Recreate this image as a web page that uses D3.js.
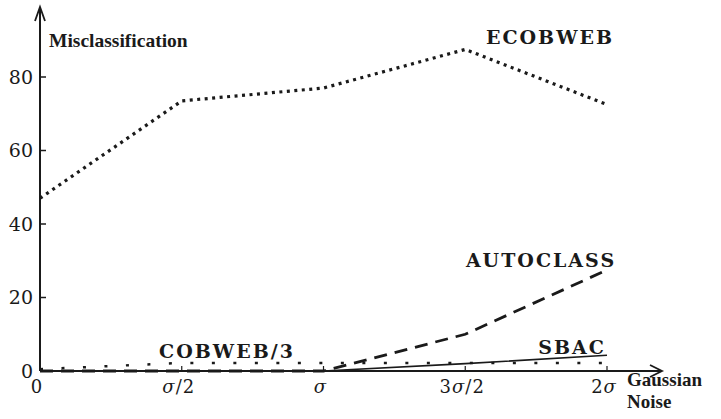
<!DOCTYPE html>
<html>
<head>
<meta charset="utf-8">
<script src="https://cdn.jsdelivr.net/npm/d3@7"></script>
<style>
  body { margin: 0; background: #fff; }
  svg { display: block; }
</style>
</head>
<body>
<script>
var noiseLevels = [0, 0.5, 1, 1.5, 2];
var noiseLabels = ["0", "σ/2", "σ", "3σ/2", "2σ"];
var yTicks = [0, 20, 40, 60, 80];

var ecobweb = [47, 73.5, 77, 87.5, 72.5];
var autoclass = [0, 0, 0, 10, 27.5];
var sbac = [0, 0, 0, 2, 4.3];
var cobweb3 = [0.5, 2.2, 2.2, 2.2, 2.2];

var width = 721, height = 419;
var serif = "'DejaVu Serif', serif";
var ink = "#1a1a1a";

var svg = d3.select("body")
  .append("svg")
  .attr("width", width)
  .attr("height", height);

var x = d3.scaleLinear().domain([0, 2]).range([40, 607]);
var y = d3.scaleLinear().domain([0, 80]).range([371, 77]);

// axes lines with open arrow heads
svg.append("line")
  .attr("x1", x(0)).attr("y1", y(0))
  .attr("x2", 662).attr("y2", y(0))
  .attr("stroke", ink).attr("stroke-width", 2);
svg.append("path")
  .attr("d", "M650," + (y(0) - 6) + " L662," + y(0) + " L650," + (y(0) + 6))
  .attr("fill", "none").attr("stroke", ink).attr("stroke-width", 1.8);

svg.append("line")
  .attr("x1", x(0)).attr("y1", y(0))
  .attr("x2", x(0)).attr("y2", 7)
  .attr("stroke", ink).attr("stroke-width", 2);
svg.append("path")
  .attr("d", "M" + (x(0) - 5) + ",21 L" + x(0) + ",7 L" + (x(0) + 5) + ",21")
  .attr("fill", "none").attr("stroke", ink).attr("stroke-width", 1.8);

// y ticks
var yt = svg.append("g");
yt.selectAll("line")
  .data(yTicks.filter(function (d) { return d > 0; }))
  .enter()
  .append("line")
  .attr("x1", x(0)).attr("x2", x(0) + 6)
  .attr("y1", function (d) { return y(d); })
  .attr("y2", function (d) { return y(d); })
  .attr("stroke", ink).attr("stroke-width", 1.5);
yt.selectAll("text")
  .data(yTicks)
  .enter()
  .append("text")
  .attr("x", 33)
  .attr("y", function (d) { return y(d); })
  .attr("dy", "0.36em")
  .attr("text-anchor", "end")
  .attr("font-family", serif)
  .attr("font-size", 19)
  .attr("fill", ink)
  .text(function (d) { return d; });

// x ticks
var xt = svg.append("g");
xt.selectAll("line")
  .data(noiseLevels.filter(function (d) { return d > 0; }))
  .enter()
  .append("line")
  .attr("x1", function (d) { return x(d); })
  .attr("x2", function (d) { return x(d); })
  .attr("y1", y(0)).attr("y2", y(0) - 5)
  .attr("stroke", ink).attr("stroke-width", 1.2);
xt.selectAll("text")
  .data(noiseLevels)
  .enter()
  .append("text")
  .attr("x", function (d) { return x(d) - 3; })
  .attr("y", 393)
  .attr("text-anchor", "middle")
  .attr("font-family", serif)
  .attr("font-size", 18)
  .attr("letter-spacing", 1)
  .attr("fill", ink)
  .each(function (d, i) {
    var t = d3.select(this);
    var parts = noiseLabels[i].split("σ");
    if (parts.length === 1) { t.text(noiseLabels[i]); return; }
    t.append("tspan").text(parts[0]);
    t.append("tspan").attr("font-style", "italic").text("σ");
    t.append("tspan").text(parts[1]);
  });

// axis titles
svg.append("text")
  .attr("x", 49).attr("y", 47)
  .attr("font-family", "'Liberation Serif', serif")
  .attr("font-weight", "bold")
  .attr("font-size", 19.5)
  .attr("fill", ink)
  .text("Misclassification");

var gn = svg.append("g")
  .attr("font-family", "'Liberation Serif', serif")
  .attr("font-weight", "bold")
  .attr("font-size", 19)
  .attr("fill", ink);
gn.append("text").attr("x", 627).attr("y", 386).text("Gaussian");
gn.append("text").attr("x", 627).attr("y", 408).text("Noise");

// series
var line = d3.line()
  .x(function (d, i) { return x(noiseLevels[i]); })
  .y(function (d) { return y(d); });

var series = [
  { name: "ECOBWEB", values: ecobweb, dash: "3,4.5", w: 3.2 },
  { name: "AUTOCLASS", values: autoclass, dash: "13,8", w: 2.8 },
  { name: "SBAC", values: sbac, dash: null, w: 1.6 },
  { name: "COBWEB/3", values: cobweb3, dash: "3,18.5", w: 2.5 }
];

svg.selectAll(".series")
  .data(series)
  .enter()
  .append("path")
  .attr("class", "series")
  .attr("d", function (d) { return line(d.values); })
  .attr("fill", "none")
  .attr("stroke", ink)
  .attr("stroke-width", function (d) { return d.w; })
  .attr("stroke-dasharray", function (d) { return d.dash; });

// series labels
var labels = [
  { text: "ECOBWEB", x: 550, y: 44 },
  { text: "AUTOCLASS", x: 541, y: 267 },
  { text: "COBWEB/3", x: 227, y: 358 },
  { text: "SBAC", x: 572, y: 354 }
];
svg.selectAll(".lbl")
  .data(labels)
  .enter()
  .append("text")
  .attr("class", "lbl")
  .attr("x", function (d) { return d.x; })
  .attr("y", function (d) { return d.y; })
  .attr("text-anchor", "middle")
  .attr("font-family", serif)
  .attr("font-weight", "bold")
  .attr("font-size", 19)
  .attr("letter-spacing", 2)
  .attr("fill", ink)
  .text(function (d) { return d.text; });
</script>
</body>
</html>
